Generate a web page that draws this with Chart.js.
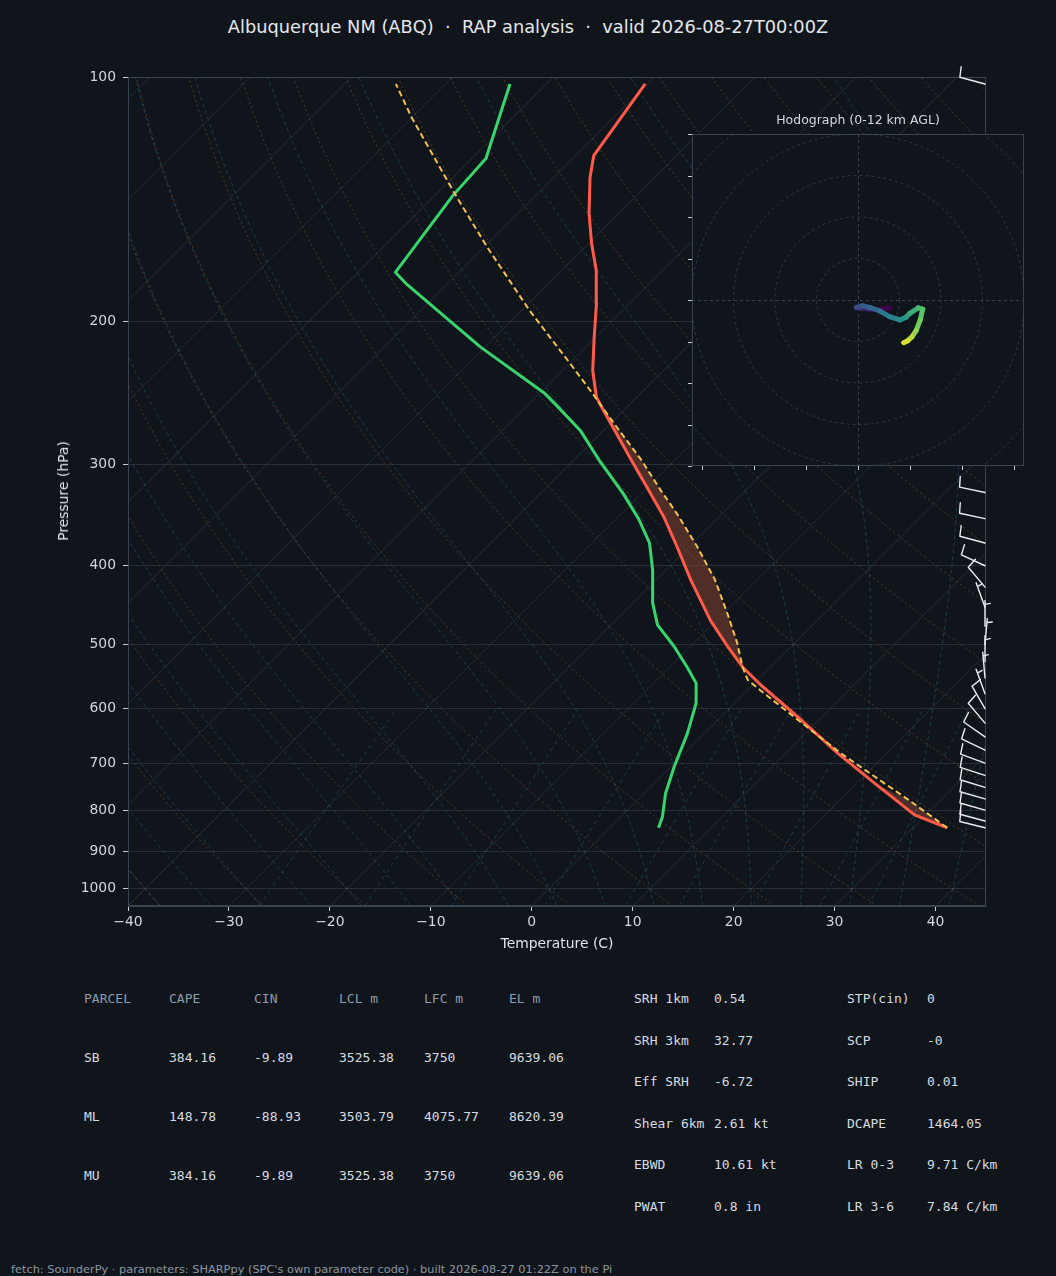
<!DOCTYPE html>
<html>
<head>
<meta charset="utf-8">
<script src="https://cdn.jsdelivr.net/npm/chart.js@4.4.1/dist/chart.umd.min.js"></script>
<style>
  html, body { margin: 0; padding: 0; background: #10151b; }
  body { width: 1056px; height: 1276px; position: relative; overflow: hidden;
         font-family: "DejaVu Sans", sans-serif; color: #dfe3e8; }
  #skewWrap { position: absolute; left: 0; top: 0; width: 1056px; height: 960px; }
  #hodoWrap { position: absolute; left: 660px; top: 100px; width: 380px; height: 380px; }
  .t { position: absolute; white-space: pre; line-height: 16px; }
  .mono { font-family: "DejaVu Sans Mono", monospace; font-size: 13px; }
</style>
</head>
<body>
<div class="t" style="left:0;top:19px;width:1056px;text-align:center;font-size:17.8px;color:#e4e7eb;">Albuquerque NM (ABQ)  ·  RAP analysis  ·  valid 2026-08-27T00:00Z</div>
<div id="skewWrap"><canvas id="skewt"></canvas></div>
<div class="t" style="left:63px;top:491px;font-size:13.9px;color:#dfe3e8;transform:translate(-50%,-50%) rotate(-90deg);">Pressure (hPa)</div>
<div class="t" style="left:557px;top:943px;font-size:13.9px;color:#dfe3e8;transform:translate(-50%,-50%);">Temperature (C)</div>
<div class="t" style="left:858px;top:120px;font-size:12.5px;color:#d3d8de;transform:translate(-50%,-50%);">Hodograph (0-12 km AGL)</div>
<div id="hodoWrap"><canvas id="hodo"></canvas></div>
<div id="table"></div>
<div class="t" style="left:11px;top:1261px;font-size:11.35px;color:#8b96a2;">fetch: SounderPy · parameters: SHARPpy (SPC's own parameter code) · built 2026-08-27 01:22Z on the Pi</div>

<script>
// ---- sounding (hPa, degC) ----
var tempP = [841, 811, 743, 681, 619, 561, 533, 503, 467, 416, 379, 348, 320, 296, 277, 256, 248, 230, 209, 190, 173, 160, 147, 133, 125, 102];
var tempT = [33.4, 28.9, 22.0, 15.2, 8.2, 0.8, -2.8, -6.3, -10.6, -16.6, -21.2, -25.5, -30.1, -34.4, -38.0, -42.3, -44.0, -47.0, -50.2, -53.3, -56.6, -59.8, -63.0, -66.4, -68.2, -70.2];

var dewP = [841, 815, 763, 707, 643, 591, 558, 533, 503, 473, 445, 405, 375, 350, 326, 298, 273, 254, 245, 215, 180, 174, 140, 126, 102];
var dewT = [4.8, 4.1, 2.1, 0.3, -1.7, -3.8, -5.8, -8.3, -11.6, -15.4, -18.0, -21.3, -24.3, -27.8, -31.8, -37.2, -42.2, -47.1, -49.6, -60.5, -74.0, -76.3, -78.2, -78.6, -83.6];

var parcelP = [841, 777, 681, 616, 569, 553, 533, 498, 458, 416, 379, 345, 323, 296, 267, 246, 223, 194, 162, 139, 112, 102];
var parcelT = [33.4, 26.8, 15.5, 7.5, 1.2, -1.0, -2.8, -5.7, -9.6, -14.2, -19.2, -24.5, -28.4, -33.4, -39.7, -44.6, -50.6, -59.2, -69.7, -78.3, -90.1, -94.9];

// shaded layers where the parcel is warmer (hPa)
var capeLayer = [533, 248];
var lowLayer = [841, 740];

// wind barbs (hPa, deg from, kt)
var barbP   = [841, 825, 800, 775, 750, 725, 700, 675, 650, 625, 600, 575, 550, 525, 500, 475, 450, 425, 400, 375, 350, 325, 300, 275, 250, 225, 200, 175, 150, 125, 102];
var barbDir = [284, 285, 286, 286, 287, 288, 290, 296, 305, 320, 330, 340, 355, 0, 5, 360, 340, 320, 295, 285, 282, 282, 282, 283, 285, 288, 290, 295, 300, 295, 285];
var barbSpd = [10, 10, 10, 10, 10, 10, 10, 10, 10, 10, 10, 5, 5, 5, 5, 5, 5, 10, 10, 10, 10, 10, 15, 15, 15, 15, 15, 15, 15, 15, 10];

// hodograph (kt), surface first
var hodoU = [7.6, 5.2, 2.8, 0.4, -0.4, 1.0, 2.8, 5.2, 7.6, 10.1, 11.5, 12.5, 14.5, 15.6, 15.0, 14.0, 13.0, 12.0, 11.0];
var hodoV = [-1.9, -2.4, -2.2, -1.9, -1.8, -1.4, -1.8, -2.6, -4.0, -4.8, -4.2, -3.2, -1.9, -2.2, -4.8, -7.4, -8.9, -9.8, -10.3];
var hodoRings = [10, 20, 30, 40, 50];
var hodoXTicks = [-37.5, -25, -12.5, 0, 12.5, 25, 37.5];
var hodoYTicks = [-40, -30, -20, -10, 0, 10, 20, 30, 40];

// axes
var tempTicks = [-40, -30, -20, -10, 0, 10, 20, 30, 40];
var presTicks = [100, 200, 300, 400, 500, 600, 700, 800, 900, 1000];

// background lines
var isoT = [-130, -120, -110, -100, -90, -80, -70, -60, -50, -40, -30, -20, -10, 0, 10, 20, 30, 40];
var dryT0 = [-40, -30, -20, -10, 0, 10, 20, 30, 40, 50, 60, 70, 80, 90, 100, 110, 120, 130, 140, 150, 160, 170, 180, 190, 200];
var moistT0 = [-40, -35, -30, -25, -20, -15, -10, -5, 0, 5, 10, 15, 20, 25, 30, 35, 40, 45];
var mixW = [0.4, 1, 2, 4, 7, 10, 16, 24, 32];

// parameter table
var parcelHead = ["PARCEL", "CAPE", "CIN", "LCL m", "LFC m", "EL m"];
var parcelRows = [
  ["SB", "384.16", "-9.89", "3525.38", "3750", "9639.06"],
  ["ML", "148.78", "-88.93", "3503.79", "4075.77", "8620.39"],
  ["MU", "384.16", "-9.89", "3525.38", "3750", "9639.06"]
];
var indexLeft = [["SRH 1km", "0.54"], ["SRH 3km", "32.77"], ["Eff SRH", "-6.72"], ["Shear 6km", "2.61 kt"], ["EBWD", "10.61 kt"], ["PWAT", "0.8 in"]];
var indexRight = [["STP(cin)", "0"], ["SCP", "-0"], ["SHIP", "0.01"], ["DCAPE", "1464.05"], ["LR 0-3", "9.71 C/km"], ["LR 3-6", "7.84 C/km"]];

// ---------------------------------------------------------------
var SKEW = 34.93;   // 45 degree isotherms for this plot size
var P_BOT = 1050, P_TOP = 100;
function skewX(p, t) { return t + SKEW * Math.log(P_BOT / p); }
function profile(ps, ts) { return ps.map(function (p, i) { return { x: skewX(p, ts[i]), y: p }; }); }

function moistLapse(p, tk) {
  var tc = tk - 273.15;
  var es = 6.112 * Math.exp(17.67 * tc / (tc + 243.5));
  var rs = 0.622 * es / (p - es);
  return (287.04 * tk + 2.501e6 * rs) / (1005.7 + 2.501e6 * 2.501e6 * rs * 0.622 / (287.04 * tk * tk)) / p;
}
function rk4(p, t, h) {
  var k1 = moistLapse(p, t);
  var k2 = moistLapse(p + h / 2, t + h * k1 / 2);
  var k3 = moistLapse(p + h / 2, t + h * k2 / 2);
  var k4 = moistLapse(p + h, t + h * k3);
  return t + h * (k1 + 2 * k2 + 2 * k3 + k4) / 6;
}

var ISO = 'rgba(150,165,185,0.16)';
var DRY = 'rgba(190,120,60,0.32)';
var MOIST = 'rgba(60,150,170,0.3)';
var MIX = 'rgba(60,150,170,0.3)';

var datasets = [];
datasets.push({ data: profile(parcelP, parcelT), showLine: true, borderColor: '#f2c14e', borderWidth: 2, borderDash: [6, 3.5], order: 0 });
datasets.push({ data: profile(tempP, tempT), showLine: true, borderColor: '#ff5a4a', borderWidth: 3, borderJoinStyle: 'round', order: 0 });
datasets.push({ data: profile(dewP, dewT), showLine: true, borderColor: '#38d46e', borderWidth: 3, borderJoinStyle: 'round', order: 0 });

function layerShape(bot, top) {
  var up = profile(parcelP, parcelT).filter(function (d) { return d.y <= bot && d.y >= top; });
  var env = profile(tempP, tempT).filter(function (d) { return d.y <= bot && d.y >= top; }).reverse();
  return up.concat(env);
}
[capeLayer, lowLayer].forEach(function (l) {
  datasets.push({ data: layerShape(l[0], l[1]), showLine: true, borderWidth: 0, borderColor: 'rgba(0,0,0,0)',
                  backgroundColor: 'rgba(140,72,50,0.5)', fill: 'shape', order: 1 });
});

isoT.forEach(function (t) {
  datasets.push({ data: [{ x: skewX(P_BOT, t), y: P_BOT }, { x: skewX(P_TOP, t), y: P_TOP }],
                  showLine: true, borderColor: ISO, borderWidth: 1, order: 2 });
});
dryT0.forEach(function (t0) {
  var pts = [];
  for (var p = P_BOT; p >= P_TOP; p -= 10) {
    var t = (t0 + 273.15) * Math.pow(p / 1000, 0.2857) - 273.15;
    pts.push({ x: skewX(p, t), y: p });
  }
  datasets.push({ data: pts, showLine: true, borderColor: DRY, borderWidth: 1, borderDash: [2.5, 2.5], order: 2 });
});
moistT0.forEach(function (t0) {
  var tk = t0 + 273.15, p, pts = [];
  for (p = 1000; p < P_BOT; p += 5) tk = rk4(p, tk, 5);
  var n = 0;
  for (p = P_BOT; p >= P_TOP; p -= 5) {
    if (n % 2 === 0) pts.push({ x: skewX(p, tk - 273.15), y: p });
    tk = rk4(p, tk, -5);
    n++;
  }
  datasets.push({ data: pts, showLine: true, borderColor: MOIST, borderWidth: 1, borderDash: [4, 3], order: 2 });
});
mixW.forEach(function (w) {
  var pts = [];
  for (var p = P_BOT; p >= 600; p -= 10) {
    var e = p * w / (622 + w);
    var a = Math.log(e / 6.112);
    var td = 243.5 * a / (17.67 - a);
    pts.push({ x: skewX(p, td), y: p });
  }
  datasets.push({ data: pts, showLine: true, borderColor: MIX, borderWidth: 1, borderDash: [4, 4], order: 2 });
});

var framePlugin = {
  id: 'frame',
  afterDatasetsDraw: function (chart) {
    var a = chart.chartArea, ctx = chart.ctx;
    ctx.save();
    ctx.strokeStyle = '#3a4350';
    ctx.lineWidth = 1;
    ctx.strokeRect(Math.round(a.left) + 0.5, Math.round(a.top) + 0.5, Math.round(a.right - a.left) - 1, Math.round(a.bottom - a.top) - 1);
    ctx.restore();
  }
};

var barbPlugin = {
  id: 'barbs',
  afterDraw: function (chart) {
    var ctx = chart.ctx, y = chart.scales.y, a = chart.chartArea;
    ctx.save();
    ctx.strokeStyle = '#e9edf2';
    ctx.lineWidth = 1.4;
    ctx.lineCap = 'round';
    barbP.forEach(function (p, i) {
      var bx = a.right - 1, by = y.getPixelForValue(p);
      var ang = barbDir[i] * Math.PI / 180;
      var dx = Math.sin(ang), dy = -Math.cos(ang);
      var nx = -dy, ny = dx;
      var L = 26, F = 10.5, gap = 4;
      var tx = bx + dx * L, ty = by + dy * L;
      ctx.beginPath();
      ctx.moveTo(bx, by);
      ctx.lineTo(tx, ty);
      var spd = Math.round(barbSpd[i] / 5) * 5, pos = 0;
      while (spd >= 10) {
        var sx = tx - dx * pos, sy = ty - dy * pos;
        ctx.moveTo(sx, sy);
        ctx.lineTo(sx + nx * F + dx * 1.5, sy + ny * F + dy * 1.5);
        pos += gap; spd -= 10;
      }
      if (spd >= 5) {
        if (pos === 0) pos = gap;
        var hx = tx - dx * pos, hy = ty - dy * pos;
        ctx.moveTo(hx, hy);
        ctx.lineTo(hx + nx * F / 2 + dx, hy + ny * F / 2 + dy);
      }
      ctx.stroke();
    });
    ctx.restore();
  }
};

Chart.defaults.font.family = '"DejaVu Sans", sans-serif';

new Chart(document.getElementById('skewt'), {
  type: 'scatter',
  data: { datasets: datasets },
  options: {
    animation: false,
    responsive: true,
    maintainAspectRatio: false,
    events: [],
    layout: { padding: { top: 77, right: 70, left: 0, bottom: 0 } },
    elements: { point: { radius: 0 }, line: { tension: 0 } },
    plugins: { legend: { display: false }, tooltip: { enabled: false } },
    scales: {
      x: {
        type: 'linear', min: -40, max: 45,
        afterBuildTicks: function (s) { s.ticks = tempTicks.map(function (v) { return { value: v }; }); },
        afterFit: function (s) { s.height = 54; },
        ticks: {
          color: '#d2d6dc', font: { size: 13.9 }, padding: 3, autoSkip: false, maxRotation: 0,
          callback: function (v) { return v < 0 ? '\u2212' + Math.abs(v) : String(v); }
        },
        grid: { drawOnChartArea: false, tickLength: 5, tickColor: '#c9ced4' },
        border: { color: '#3a4350' }
      },
      y: {
        type: 'logarithmic', reverse: true, min: P_TOP, max: P_BOT,
        afterBuildTicks: function (s) { s.ticks = presTicks.map(function (v) { return { value: v }; }); },
        afterFit: function (s) { s.width = 128; },
        ticks: {
          color: '#d2d6dc', font: { size: 13.9 }, padding: 7, autoSkip: false,
          callback: function (v) { return String(v); }
        },
        grid: { color: '#272e38', lineWidth: 1, tickLength: 5, tickColor: '#c9ced4' },
        border: { color: '#3a4350' }
      }
    }
  },
  plugins: [framePlugin, barbPlugin]
});

// ---- hodograph inset ----
var viridisStops = [[68, 1, 84], [59, 82, 139], [33, 145, 140], [94, 201, 98], [253, 231, 37]];
function viridis(f) {
  f = Math.max(0, Math.min(1, f));
  var s = f * (viridisStops.length - 1), i = Math.min(Math.floor(s), viridisStops.length - 2), r = s - i;
  var c0 = viridisStops[i], c1 = viridisStops[i + 1];
  return 'rgb(' + [0, 1, 2].map(function (k) { return Math.round(c0[k] + (c1[k] - c0[k]) * r); }).join(',') + ')';
}

var hodoFrame = {
  id: 'hodoFrame',
  beforeDatasetsDraw: function (chart) {
    var ctx = chart.ctx, a = chart.chartArea, x = chart.scales.x, y = chart.scales.y;
    var cx = x.getPixelForValue(0), cy = y.getPixelForValue(0);
    var unit = x.getPixelForValue(1) - cx;
    ctx.save();
    ctx.fillStyle = '#10151b';
    ctx.fillRect(a.left, a.top, a.right - a.left, a.bottom - a.top);
    ctx.beginPath();
    ctx.rect(a.left, a.top, a.right - a.left, a.bottom - a.top);
    ctx.clip();
    ctx.strokeStyle = '#2e3743';
    ctx.lineWidth = 1;
    ctx.setLineDash([3, 3]);
    hodoRings.forEach(function (r) {
      ctx.beginPath();
      ctx.arc(cx, cy, r * unit, 0, Math.PI * 2);
      ctx.stroke();
    });
    ctx.strokeStyle = '#39434f';
    ctx.beginPath();
    ctx.moveTo(a.left, Math.round(cy) + 0.5); ctx.lineTo(a.right, Math.round(cy) + 0.5);
    ctx.moveTo(Math.round(cx) + 0.5, a.top); ctx.lineTo(Math.round(cx) + 0.5, a.bottom);
    ctx.stroke();
    ctx.restore();

    ctx.save();
    ctx.strokeStyle = '#3a4350';
    ctx.lineWidth = 1;
    ctx.strokeRect(Math.round(a.left) + 0.5, Math.round(a.top) + 0.5, Math.round(a.right - a.left) - 1, Math.round(a.bottom - a.top) - 1);
    ctx.strokeStyle = '#c9ced4';
    ctx.beginPath();
    hodoYTicks.forEach(function (v) {
      var py = Math.round(y.getPixelForValue(v)) + 0.5;
      ctx.moveTo(a.left - 4, py); ctx.lineTo(a.left, py);
    });
    hodoXTicks.forEach(function (v) {
      var px = Math.round(x.getPixelForValue(v)) + 0.5;
      ctx.moveTo(px, a.bottom); ctx.lineTo(px, a.bottom + 4);
    });
    ctx.stroke();
    ctx.restore();
  }
};

new Chart(document.getElementById('hodo'), {
  type: 'scatter',
  data: {
    datasets: [{
      data: hodoU.map(function (u, i) { return { x: u, y: hodoV[i] }; }),
      showLine: true, borderWidth: 5, borderCapStyle: 'round', borderJoinStyle: 'round',
      borderColor: viridis(0),
      segment: { borderColor: function (c) { return viridis(c.p0DataIndex / (hodoU.length - 1)); } }
    }]
  },
  options: {
    animation: false,
    responsive: true,
    maintainAspectRatio: false,
    events: [],
    layout: { padding: { left: 32, top: 34, right: 16, bottom: 14 } },
    elements: { point: { radius: 0 }, line: { tension: 0 } },
    plugins: { legend: { display: false }, tooltip: { enabled: false } },
    scales: {
      x: { type: 'linear', display: false, min: -40, max: 40 },
      y: { type: 'linear', display: false, min: -40, max: 40 }
    }
  },
  plugins: [hodoFrame]
});

// ---- parameter table ----
var tbl = document.getElementById('table');
function cell(txt, x, yc, color) {
  var d = document.createElement('div');
  d.className = 't mono';
  d.style.left = x + 'px';
  d.style.top = (yc - 8) + 'px';
  d.style.color = color;
  d.textContent = txt;
  tbl.appendChild(d);
}
var colX = [84, 169, 254, 339, 424, 509];
parcelHead.forEach(function (h, j) { cell(h, colX[j], 999, '#8d9bab'); });
parcelRows.forEach(function (row, i) {
  row.forEach(function (v, j) { cell(v, colX[j], 1058 + i * 59, '#d6dbe0'); });
});
indexLeft.forEach(function (r, i) {
  var yc = 999 + i * 41.6;
  cell(r[0], 634, yc, '#d6dbe0');
  cell(r[1], 714, yc, '#d6dbe0');
});
indexRight.forEach(function (r, i) {
  var yc = 999 + i * 41.6;
  cell(r[0], 847, yc, '#d6dbe0');
  cell(r[1], 927, yc, '#d6dbe0');
});
</script>
</body>
</html>
